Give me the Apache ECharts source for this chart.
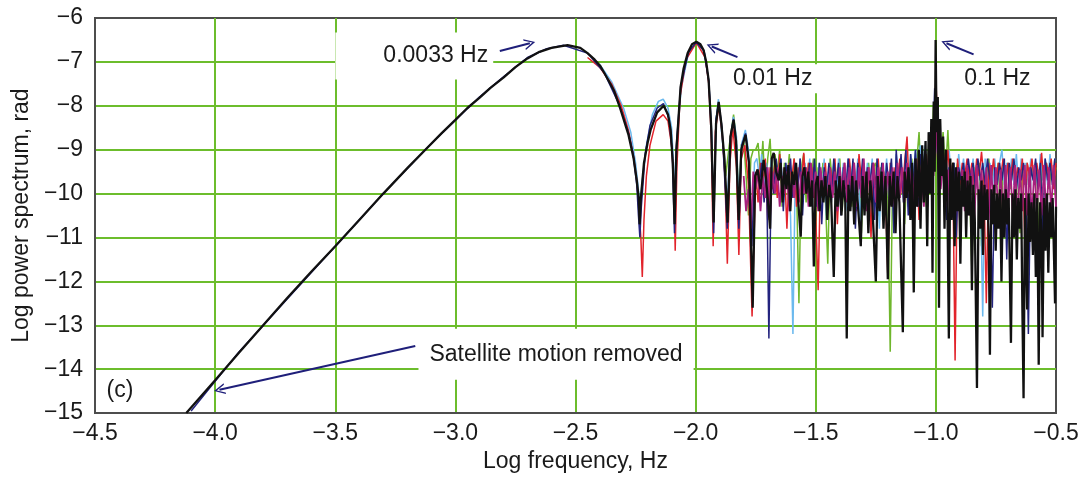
<!DOCTYPE html>
<html>
<head>
<meta charset="utf-8">
<script src="https://cdn.jsdelivr.net/npm/echarts@6/dist/echarts.min.js"></script>
<style>
html,body{margin:0;padding:0;background:#fff;}
#chart{width:1088px;height:478px;}
</style>
</head>
<body>
<div id="chart"></div>
<script>
// ---- data (log10 frequency [Hz], log10 power) ----
const blackSeries = [
[-4.12,-15.0],[-4.0,-14.25],[-3.9,-13.62],[-3.8,-13.0],[-3.7,-12.38],[-3.6,-11.78],[-3.5,-11.2],[-3.4,-10.6],[-3.3,-10.0],[-3.2,-9.42],[-3.125,-9.0],[-3.06,-8.64],[-3.0,-8.32],[-2.95,-8.05],[-2.9,-7.82],[-2.854,-7.59],[-2.8,-7.36],[-2.75,-7.12],[-2.7,-6.92],[-2.65,-6.77],[-2.6,-6.68],[-2.533,-6.62],[-2.48,-6.68],[-2.45,-6.8],[-2.42,-6.95],[-2.396,-7.1],[-2.37,-7.35],[-2.34,-7.65],[-2.3125,-8.08],[-2.28,-8.65],[-2.258,-9.2],[-2.245,-9.7],[-2.237,-10.1],[-2.233,-10.7],[-2.228,-10.1],[-2.215,-9.3],[-2.2,-8.85],[-2.1875,-8.55],[-2.16,-8.15],[-2.133,-8.0],[-2.115,-8.2],[-2.104,-8.55],[-2.095,-9.3],[-2.0875,-10.7],[-2.08,-9.0],[-2.0625,-7.57],[-2.05,-7.15],[-2.033,-6.8],[-2.015,-6.6],[-1.997,-6.54],[-1.98,-6.6],[-1.967,-6.73],[-1.956,-7.0],[-1.946,-7.41],[-1.935,-8.5],[-1.925,-10.66],[-1.915,-8.4],[-1.904,-7.91],[-1.893,-8.4],[-1.88,-9.2],[-1.867,-10.66],[-1.855,-8.7],[-1.842,-8.32],[-1.832,-8.8],[-1.821,-10.6],[-1.81,-9.0],[-1.792,-8.66],[-1.778,-9.3],[-1.7625,-12.6],[-1.752,-9.6],[-1.742,-9.45],[-1.73,-9.9],[-1.717,-9.23],[-1.708,-9.6],[-1.7,-10.1],[-1.69,-10.8],[-1.683,-9.2],[-1.675,-9.07],[-1.665,-9.5],[-1.654,-9.7],
[-1.646,-9.3],[-1.638,-10.2],[-1.63,-9.4],[-1.622,-9.9],[-1.614,-9.35],[-1.606,-10.4],[-1.598,-9.5],[-1.59,-9.8],[-1.582,-9.3],[-1.574,-10.1],[-1.5625,-10.98],[-1.555,-9.6],[-1.547,-9.4],[-1.539,-10.0],[-1.531,-9.5],[-1.523,-10.3],[-1.515,-9.7],[-1.508,-11.66],[-1.5,-9.8],[-1.492,-9.6],[-1.484,-10.4],[-1.476,-9.7],[-1.468,-10.2],[-1.46,-9.6],[-1.452,-10.6],[-1.444,-9.8],[-1.436,-10.1],[-1.425,-11.9],[-1.417,-9.7],[-1.409,-10.3],[-1.401,-9.6],[-1.393,-10.5],[-1.385,-9.7],[-1.377,-10.2],[-1.371,-13.3],[-1.364,-9.8],[-1.356,-10.4],[-1.348,-9.6],[-1.34,-10.7],[-1.332,-9.7],[-1.324,-10.3],[-1.3125,-11.2],[-1.305,-9.6],[-1.297,-10.5],[-1.289,-9.5],[-1.281,-10.9],[-1.273,-9.7],[-1.265,-10.2],[-1.25,-12.0],[-1.242,-9.6],[-1.234,-10.4],[-1.226,-9.5],[-1.218,-10.8],[-1.21,-9.6],[-1.2,-11.95],[-1.192,-9.6],[-1.184,-10.3],[-1.176,-9.5],[-1.168,-10.9],[-1.16,-9.6],[-1.152,-10.2],[-1.1375,-13.16],[-1.13,-9.5],[-1.122,-10.1],[-1.114,-9.4],[-1.106,-10.6],[-1.099,-9.3],[-1.092,-12.25],[-1.085,-9.2],[-1.078,-10.3],[-1.071,-9.0],[-1.064,-10.8],[-1.057,-8.9],[-1.05,-10.2],[-1.043,-8.8],[-1.036,-11.2],[-1.03,-8.6],[-1.024,-10.0],[-1.019,-8.3],[-1.014,-11.8],[-1.009,-7.9],[-1.005,-9.5],[-1.001,-6.5],[-0.997,-8.6],[-0.992,-7.8],[-0.987,-12.6],[-0.982,-8.3],[-0.976,-9.6],[-0.97,-8.7],[-0.964,-10.8],[-0.958,-9.0],[-0.952,-10.2],[-0.946,-13.3],[-0.94,-9.2],[-0.934,-10.6],[-0.928,-9.3],[-0.922,-11.2],[-0.916,-9.4],[-0.91,-10.4],[-0.904,-9.5],[-0.898,-11.6],[-0.892,-9.6],[-0.886,-10.3],[-0.88,-9.5],[-0.874,-11.0],[-0.868,-9.7],[-0.862,-10.5],[-0.856,-9.6],[-0.85,-12.2],[-0.844,-9.8],[-0.838,-10.6],[-0.829,-14.43],[-0.822,-9.9],[-0.816,-10.8],[-0.81,-9.7],[-0.804,-11.4],[-0.798,-9.8],[-0.792,-10.6],[-0.786,-9.9],[-0.78,-11.0],[-0.775,-13.67],[-0.769,-9.9],[-0.763,-10.7],[-0.757,-9.8],[-0.751,-11.3],[-0.745,-10.0],[-0.739,-10.8],[-0.733,-9.9],[-0.727,-12.0],[-0.721,-10.0],[-0.715,-11.0],[-0.709,-9.9],[-0.703,-10.7],[-0.697,-10.1],[-0.6875,-13.4],[-0.681,-10.0],[-0.675,-11.0],[-0.669,-9.9],[-0.663,-11.5],[-0.657,-10.1],[-0.651,-10.8],[-0.645,-10.0],[-0.64,-12.6],[-0.635,-14.66],[-0.629,-10.1],[-0.62,-12.64],[-0.614,-10.0],[-0.608,-11.1],[-0.602,-10.2],[-0.596,-11.4],[-0.59,-10.0],[-0.584,-11.9],[-0.578,-10.1],[-0.572,-13.9],[-0.566,-10.2],[-0.56,-11.0],[-0.556,-13.27],[-0.55,-10.1],[-0.544,-11.3],[-0.538,-10.0],[-0.532,-11.8],[-0.526,-10.2],[-0.52,-11.0],[-0.514,-10.1],[-0.508,-11.5],[-0.504,-12.5],[-0.5,-10.3]
];

// low-frequency / side-lobe parts of the coloured runs
const navyLobes = [
[-4.1,-14.95],[-3.9,-13.6],[-3.7,-12.4],[-3.5,-11.2],[-3.3,-10.0],[-3.1,-8.86],[-2.9,-7.8],[-2.8,-7.34],[-2.7,-6.9],[-2.62,-6.7],[-2.55,-6.62],[-2.45,-6.8],[-2.38,-7.25],[-2.32,-7.95],[-2.28,-8.6],[-2.26,-9.1],[-2.245,-9.8],[-2.238,-10.5],[-2.232,-11.0],[-2.226,-10.3],[-2.21,-9.1],[-2.19,-8.45],[-2.16,-8.05],[-2.134,-7.95],[-2.11,-8.3],[-2.097,-9.1],[-2.088,-10.9],[-2.08,-8.9],[-2.062,-7.55],[-2.03,-6.78],[-1.997,-6.55],[-1.965,-6.75],[-1.945,-7.45],[-1.934,-8.6],[-1.925,-10.9],[-1.915,-8.3],[-1.904,-7.93],[-1.89,-8.5],[-1.868,-10.8],[-1.855,-8.7],[-1.842,-8.3],[-1.83,-8.9],[-1.82,-10.8],[-1.808,-8.9],[-1.792,-8.63],[-1.778,-9.3],[-1.766,-11.2],[-1.755,-9.6]
];
const redLobes = [
[-2.45,-6.9],[-2.4,-7.12],[-2.35,-7.5],[-2.31,-8.0],[-2.28,-8.55],[-2.26,-9.1],[-2.245,-9.7],[-2.235,-10.4],[-2.228,-11.0],[-2.222,-11.9],[-2.215,-10.6],[-2.205,-9.6],[-2.19,-8.9],[-2.165,-8.35],[-2.135,-8.2],[-2.115,-8.35],[-2.1,-8.9],[-2.09,-9.8],[-2.085,-11.3],[-2.078,-9.4],[-2.065,-7.8],[-2.04,-6.95],[-1.997,-6.56],[-1.96,-6.9],[-1.945,-7.5],[-1.935,-8.7],[-1.927,-11.2],[-1.918,-8.6],[-1.904,-8.0],[-1.89,-8.6],[-1.878,-9.6],[-1.868,-11.6],[-1.857,-9.3],[-1.845,-8.5],[-1.83,-9.4],[-1.82,-11.4],[-1.81,-9.2],[-1.795,-8.9],[-1.78,-9.8],[-1.765,-12.8]
];
const lightBlueLobes = [
[-2.4,-7.05],[-2.35,-7.45],[-2.3,-8.05],[-2.27,-8.6],[-2.25,-9.3],[-2.24,-9.8],[-2.232,-10.3],[-2.222,-9.7],[-2.205,-8.9],[-2.18,-8.2],[-2.155,-7.9],[-2.135,-7.85],[-2.115,-8.05],[-2.1,-8.5],[-2.09,-9.5],[-2.085,-10.2],[-2.075,-8.6],[-2.06,-7.6],[-2.03,-6.8],[-1.997,-6.56],[-1.965,-6.75],[-1.946,-7.4],[-1.935,-8.4],[-1.926,-10.3],[-1.915,-8.3],[-1.905,-7.85],[-1.88,-9.3],[-1.87,-10.5],[-1.858,-8.9],[-1.843,-8.25],[-1.83,-8.7],[-1.82,-10.4],[-1.81,-8.9],[-1.793,-8.55],[-1.78,-9.0],[-1.765,-11.0],[-1.755,-9.3]
];
const greenLobes = [
[-1.875,-9.6],[-1.86,-8.9],[-1.842,-8.2],[-1.83,-8.8],[-1.82,-10.3],[-1.81,-8.9],[-1.8,-8.75],[-1.79,-9.6],[-1.78,-10.5],[-1.77,-9.2],[-1.76,-9.0]
];
const magentaLobes = [[-1.8,-9.6],[-1.79,-10.4],[-1.78,-9.9],[-1.77,-10.8],[-1.76,-9.5]];

// noise region: two frequency grids (log Hz)
const freqGridA = [-1.75,-1.74,-1.73,-1.72,-1.71,-1.70,-1.69,-1.68,-1.67,-1.66,-1.65,-1.64,-1.63,-1.62,-1.61,-1.60,-1.59,-1.58,-1.57,-1.56,-1.55,-1.54,-1.53,-1.52,-1.51,-1.50,-1.49,-1.48,-1.47,-1.46,-1.45,-1.44,-1.43,-1.42,-1.41,-1.40,-1.39,-1.38,-1.37,-1.36,-1.35,-1.34,-1.33,-1.32,-1.31,-1.30,-1.29,-1.28,-1.27,-1.26,-1.25,-1.24,-1.23,-1.22,-1.21,-1.20,-1.19,-1.18,-1.17,-1.16,-1.15,-1.14,-1.13,-1.12,-1.11,-1.10,-1.09,-1.08,-1.07,-1.06,-1.05,-1.04,-1.03,-1.02,-1.01,-1.00,-0.99,-0.98,-0.97,-0.96,-0.95,-0.94,-0.93,-0.92,-0.91,-0.90,-0.89,-0.88,-0.87,-0.86,-0.85,-0.84,-0.83,-0.82,-0.81,-0.80,-0.79,-0.78,-0.77,-0.76,-0.75,-0.74,-0.73,-0.72,-0.71,-0.70,-0.69,-0.68,-0.67,-0.66,-0.65,-0.64,-0.63,-0.62,-0.61,-0.60,-0.59,-0.58,-0.57,-0.56,-0.55,-0.54,-0.53,-0.52,-0.51,-0.50];
const freqGridB = [-1.745,-1.735,-1.725,-1.715,-1.705,-1.695,-1.685,-1.675,-1.665,-1.655,-1.645,-1.635,-1.625,-1.615,-1.605,-1.595,-1.585,-1.575,-1.565,-1.555,-1.545,-1.535,-1.525,-1.515,-1.505,-1.495,-1.485,-1.475,-1.465,-1.455,-1.445,-1.435,-1.425,-1.415,-1.405,-1.395,-1.385,-1.375,-1.365,-1.355,-1.345,-1.335,-1.325,-1.315,-1.305,-1.295,-1.285,-1.275,-1.265,-1.255,-1.245,-1.235,-1.225,-1.215,-1.205,-1.195,-1.185,-1.175,-1.165,-1.155,-1.145,-1.135,-1.125,-1.115,-1.105,-1.095,-1.085,-1.075,-1.065,-1.055,-1.045,-1.035,-1.025,-1.015,-1.005,-0.995,-0.985,-0.975,-0.965,-0.955,-0.945,-0.935,-0.925,-0.915,-0.905,-0.895,-0.885,-0.875,-0.865,-0.855,-0.845,-0.835,-0.825,-0.815,-0.805,-0.795,-0.785,-0.775,-0.765,-0.755,-0.745,-0.735,-0.725,-0.715,-0.705,-0.695,-0.685,-0.675,-0.665,-0.655,-0.645,-0.635,-0.625,-0.615,-0.605,-0.595,-0.585,-0.575,-0.565,-0.555,-0.545,-0.535,-0.525,-0.515,-0.505];

const redNoise = [
-9.5,-10.2,-9.3,-9.8,-9.2,-10.6,-9.4,-9.9,-9.3,-10.1,
-9.1,-9.9,-9.4,-10.8,-9.3,-9.7,-9.2,-10.3,-9.4,-9.8,
-9.07,-10.0,-9.3,-9.9,-9.4,-10.5,-12.2,-9.5,-9.9,-9.3,
-10.2,-9.4,-9.8,-9.2,-10.7,-9.5,-9.9,-9.3,-10.1,-9.2,
-9.8,-9.3,-10.4,-9.1,-9.7,-9.3,-10.2,-9.4,-11.0,-9.3,
-9.8,-9.2,-10.1,-9.4,-9.9,-11.9,-9.3,-10.3,-9.4,-9.8,
-9.2,-10.0,-9.3,-8.7,-10.1,-9.4,-9.9,-9.2,-10.6,-9.3,
-10.2,-9.1,-9.8,-9.0,-8.6,-7.4,-8.8,-9.3,-9.0,-9.7,
-9.0,-9.7,-9.3,-13.8,-9.2,-9.8,-9.3,-9.6,-9.2,-9.7,
-9.3,-9.8,-9.2,-9.6,-9.05,-9.7,-12.5,-9.3,-9.7,-9.2,
-9.8,-9.3,-9.6,-9.2,-9.9,-9.3,-9.7,-9.2,-9.8,-9.4,
-9.7,-9.2,-11.0,-9.3,-9.6,-9.2,-9.8,-9.3,-9.7,-9.07,
-9.8,-9.3,-9.6,-9.2,-9.9,-9.3];
const greenNoise = [
-9.0,-8.85,-9.6,-8.8,-10.1,-9.2,-8.75,-9.9,-9.1,-9.5,
-9.0,-10.3,-9.3,-9.7,-9.1,-10.0,-9.2,-9.8,-12.5,-9.4,
-9.1,-10.2,-9.3,-9.8,-9.2,-10.6,-9.4,-9.9,-9.3,-10.1,
-11.6,-9.2,-9.8,-9.3,-10.0,-9.2,-10.4,-9.4,-9.8,-9.3,
-10.3,-9.4,-9.9,-9.3,-10.9,-9.5,-9.8,-9.3,-10.2,-9.4,
-9.3,-10.5,-9.4,-9.9,-9.5,-10.1,-13.6,-9.6,-9.9,-9.4,
-10.1,-9.5,-10.7,-9.4,-9.8,-9.2,-10.0,-9.3,-8.6,-9.9,
-9.2,-10.3,-8.9,-9.6,-8.0,-7.9,-8.3,-9.2,-8.6,-9.6,
-8.55,-9.8,-9.3,-9.6,-9.3,-9.9,-9.4,-9.7,-9.5,-9.8,
-11.8,-9.4,-9.7,-9.3,-11.2,-9.5,-9.8,-9.2,-9.7,-9.4,
-9.8,-9.3,-10.8,-9.5,-9.7,-9.3,-9.9,-9.4,-9.7,-9.5,
-10.9,-9.4,-9.8,-9.3,-9.7,-9.4,-9.8,-9.5,-11.3,-9.4,
-9.7,-9.3,-9.9,-9.5,-9.7,-9.4];
const magentaNoise = [
-9.9,-9.5,-10.4,-9.6,-10.1,-9.4,-10.5,-9.5,-10.0,-9.4,
-10.3,-9.6,-10.0,-9.5,-10.4,-9.6,-10.1,-9.4,-10.2,-9.5,
-10.0,-9.4,-10.3,-9.3,-10.1,-9.5,-10.4,-9.4,-10.0,-9.5,
-10.3,-9.4,-10.1,-9.5,-10.4,-9.4,-10.0,-9.3,-10.2,-9.4,
-10.0,-9.3,-10.3,-9.4,-10.1,-9.2,-10.4,-9.4,-10.0,-9.3,
-10.2,-9.4,-10.0,-9.3,-10.3,-9.5,-10.1,-9.4,-10.4,-9.3,
-10.1,-9.4,-10.2,-9.3,-10.0,-9.4,-10.3,-9.5,-10.1,-9.4,
-10.3,-9.2,-9.9,-9.0,-9.6,-8.5,-9.4,-9.9,-9.3,-10.3,
-9.45,-10.5,-9.35,-10.4,-9.4,-10.6,-9.45,-10.4,-9.35,-10.5,
-9.4,-10.6,-9.35,-10.4,-9.45,-10.5,-9.4,-10.6,-9.35,-10.4,
-9.4,-10.5,-9.45,-10.6,-9.35,-10.4,-9.4,-10.5,-9.35,-10.6,
-9.45,-10.4,-9.35,-10.5,-9.4,-10.6,-9.35,-10.4,-9.45,-10.5,
-9.35,-10.6,-9.4,-10.4,-9.35,-10.3];
const navyNoise = [
-9.5,-9.8,-9.3,-10.2,-9.4,-13.3,-9.4,-10.0,-9.2,-9.7,
-9.2,-10.4,-9.3,-9.8,-9.2,-10.1,-9.3,-9.9,-9.2,-10.5,
-9.4,-9.8,-9.3,-10.0,-9.2,-10.3,-9.3,-10.7,-9.4,-9.9,
-9.3,-10.2,-9.2,-9.8,-9.3,-10.5,-9.4,-9.9,-9.2,-10.0,
-9.2,-10.8,-9.3,-9.9,-9.2,-10.1,-9.4,-9.8,-9.3,-10.6,
-9.2,-10.0,-9.3,-10.3,-9.3,-9.8,-9.2,-10.9,-9.0,-9.9,
-9.1,-10.2,-9.0,-10.5,-9.1,-9.8,-9.0,-10.3,-9.1,-9.6,
-9.0,-10.3,-8.8,-9.2,-7.6,-8.8,-9.8,-9.2,-9.5,-10.6,
-9.4,-9.8,-9.3,-11.0,-9.4,-9.7,-9.3,-9.9,-9.2,-9.7,
-9.3,-9.9,-9.2,-9.7,-9.3,-9.8,-9.2,-9.7,-12.6,-9.4,
-9.8,-9.3,-9.7,-9.2,-11.5,-9.3,-9.7,-9.2,-9.9,-9.4,
-9.7,-9.3,-9.8,-13.2,-9.4,-9.7,-9.2,-9.9,-9.3,-10.9,
-9.2,-9.7,-9.3,-9.8,-9.2];
const lightBlueNoise = [
-9.2,-9.6,-9.1,-9.9,-9.3,-9.8,-9.2,-10.0,-9.3,-9.7,
-9.2,-10.2,-9.3,-9.8,-10.5,-13.2,-9.4,-9.9,-9.2,-10.0,
-9.3,-9.8,-9.2,-10.3,-9.4,-9.9,-9.3,-10.1,-9.2,-10.6,
-9.4,-9.8,-9.3,-10.2,-9.2,-9.9,-9.3,-10.4,-9.2,-9.8,
-9.3,-9.9,-9.2,-10.7,-9.4,-10.0,-9.3,-9.8,-9.2,-10.3,
-9.4,-10.8,-9.3,-9.9,-9.2,-10.2,-9.3,-10.6,-9.1,-9.8,
-9.2,-10.1,-9.0,-10.3,-9.1,-9.7,-9.0,-10.0,-8.9,-9.5,
-8.9,-9.6,-8.6,-9.4,-8.3,-9.0,-9.4,-9.0,-9.2,-10.4,
-9.0,-9.7,-9.3,-9.9,-9.1,-9.7,-9.2,-9.8,-9.3,-9.7,
-9.2,-9.8,-9.3,-9.7,-12.8,-9.2,-9.7,-9.3,-9.8,-9.2,
-9.8,-9.3,-9.0,-9.8,-9.3,-9.7,-9.2,-9.8,-9.1,-9.9,
-9.2,-9.7,-9.3,-9.8,-9.2,-9.7,-9.3,-9.9,-9.1,-9.7,
-9.2,-9.8,-9.1,-9.7,-9.2];

// ---- annotations (data coordinates) ----
const annotationTexts = ['0.0033 Hz', '0.01 Hz', '0.1 Hz', 'Satellite motion removed', '(c)'];
const annotationAt = [[-3.171,-6.864],[-1.679,-7.386],[-0.744,-7.386],[-2.581,-13.659],[-4.396,-14.5]];
const arrowFrom = [[-2.815,-6.75],[-1.826,-6.89],[-0.843,-6.83],[-3.167,-13.47]];
const arrowTo   = [[-2.69,-6.575],[-1.933,-6.65],[-0.956,-6.575],[-3.982,-14.47]];

const FONT = 'Liberation Sans, Arial, sans-serif';
const FS = 23;
const minus = s => String(s).replace('-', '\u2212');
const zipGrid = (grid, vals) => vals.map((v, i) => [grid[i], v]);

const paddings = [[12,5,12,48],[3,10,3,10],[3,13,3,13],[11,11,17,11],[0,0,0,0]];
const markPointData = annotationTexts.map((t, i) => ({
  coord: annotationAt[i],
  symbol: 'circle', symbolSize: 0,
  label: {
    show: true, position: 'inside', formatter: t,
    fontFamily: FONT, fontSize: FS, color: '#1a1a1a',
    backgroundColor: i < 4 ? '#ffffff' : 'transparent',
    padding: paddings[i]
  }
}));
const chevron = 'path://M5,0 L10,10 L8.6,10 L5,2.6 L1.4,10 L0,10 Z';
const markLineData = arrowFrom.map((f, i) => [{coord: f}, {coord: arrowTo[i]}]);

const lineSeries = (name, data, color, width, z) => ({
  name, type: 'line', data, showSymbol: false, symbol: 'none',
  lineStyle: {color, width}, itemStyle: {color}, z, animation: false, silent: true
});

const chart = echarts.init(document.getElementById('chart'), null, {renderer: 'canvas'});
chart.setOption({
  backgroundColor: '#ffffff',
  animation: false,
  grid: {left: 95, right: 32, top: 18, bottom: 64, show: true, borderColor: '#4d4d4d', borderWidth: 2, backgroundColor: '#fff'},
  xAxis: {
    type: 'value', min: -4.5, max: -0.5, interval: 0.5,
    name: 'Log frequency, Hz', nameLocation: 'middle', nameGap: 35,
    nameTextStyle: {fontFamily: FONT, fontSize: FS, color: '#1a1a1a'},
    axisLine: {show: true, lineStyle: {color: '#4d4d4d', width: 2}},
    axisTick: {show: false},
    axisLabel: {fontFamily: FONT, fontSize: FS, color: '#1a1a1a', margin: 9, formatter: v => minus(v.toFixed(1))},
    splitLine: {show: true, showMinLine: false, showMaxLine: false, lineStyle: {color: '#6cbd2c', width: 2}}
  },
  yAxis: {
    type: 'value', min: -15, max: -6, interval: 1,
    name: 'Log power spectrum, rad', nameLocation: 'middle', nameGap: 61,
    nameTextStyle: {fontFamily: FONT, fontSize: FS, color: '#1a1a1a'},
    axisLine: {show: true, lineStyle: {color: '#4d4d4d', width: 2}},
    axisTick: {show: false},
    axisLabel: {fontFamily: FONT, fontSize: FS, color: '#1a1a1a', margin: 12, formatter: v => minus(v)},
    splitLine: {show: true, showMinLine: false, showMaxLine: false, lineStyle: {color: '#6cbd2c', width: 2}}
  },
  series: [
    lineSeries('green', greenLobes.concat(zipGrid(freqGridA, greenNoise)), '#6fb62c', 1.5, 2),
    lineSeries('lightblue', lightBlueLobes.concat(zipGrid(freqGridB, lightBlueNoise)), '#6bb9ee', 1.5, 3),
    lineSeries('red', redLobes.concat(zipGrid(freqGridA, redNoise)), '#e2232b', 1.5, 4),
    lineSeries('navy', navyLobes.concat(zipGrid(freqGridB, navyNoise)), '#23237e', 1.5, 5),
    lineSeries('magenta', magentaLobes.concat(zipGrid(freqGridA, magentaNoise)), '#a8207e', 1.8, 6),
    Object.assign(lineSeries('black', blackSeries, '#111111', 2.3, 7), {
      markPoint: {silent: true, animation: false, data: markPointData, z: 10},
      markLine: {
        silent: true, animation: false, symbol: ['none', chevron], symbolSize: 11,
        label: {show: false}, lineStyle: {color: '#1f1f7a', width: 2, type: 'solid'},
        emphasis: {disabled: true}, data: markLineData
      }
    })
  ]
});
</script>
</body>
</html>
